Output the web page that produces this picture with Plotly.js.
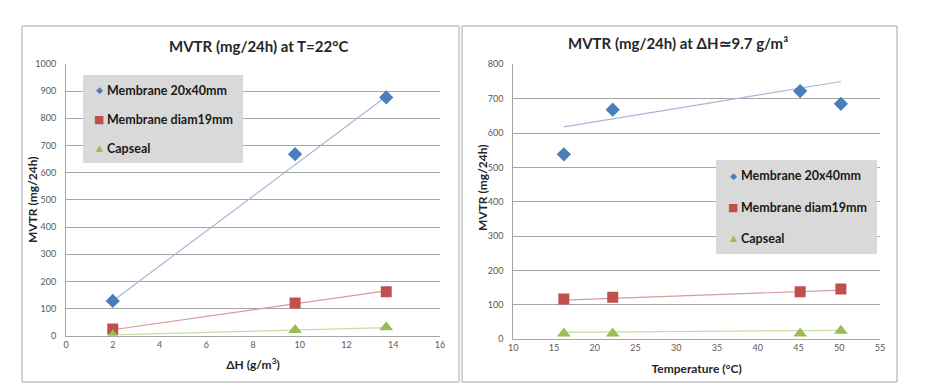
<!DOCTYPE html>
<html>
<head>
<meta charset="utf-8">
<script src="https://cdn.plot.ly/plotly-3.0.1.min.js"></script>
<style>html,body{margin:0;padding:0;background:#fff;}#chart{width:940px;height:390px;}</style>
</head>
<body>
<div id="chart"></div>
<script>
// ---- Data ----
const seriesNames = ["Membrane 20x40mm", "Membrane diam19mm", "Capseal"];

// Left chart: MVTR vs ΔH at T=22°C
const deltaH = [2, 9.8, 13.7];
const leftMembrane20x40 = [128, 668, 877];
const leftMembraneDiam19 = [25, 120, 162];
const leftCapseal = [2, 21, 31];
// Trend lines (end points)
const leftTrendX = [2, 13.7];
const leftTrend20x40 = [128, 880];
const leftTrendDiam19 = [22, 165];
const leftTrendCapseal = [3, 30];

// Right chart: MVTR vs Temperature at ΔH≃9.7 g/m³
const temperature = [16.2, 22.2, 45.2, 50.2];
const rightMembrane20x40 = [538, 668, 722, 685];
const rightMembraneDiam19 = [117, 122, 138, 146];
const rightCapseal = [17, 17, 17, 25];
const rightTrendX = [16.2, 50.2];
const rightTrend20x40 = [618, 750];
const rightTrendDiam19 = [114, 143];
const rightTrendCapseal = [20, 26];

const leftXTicks = [0, 2, 4, 6, 8, 10, 12, 14, 16];
const leftYTicks = [0, 100, 200, 300, 400, 500, 600, 700, 800, 900, 1000];
const rightXTicks = [10, 15, 20, 25, 30, 35, 40, 45, 50, 55];
const rightYTicks = [0, 100, 200, 300, 400, 500, 600, 700, 800];

// ---- Styles ----
const W = 940, H = 390;
const FONT = "Lato, 'Liberation Sans', sans-serif";
const markerColors = ["#4a7ebb", "#c0504d", "#9bbb59"];
const lineColors = ["#a5b9d6", "#d89a98", "#c9dca2"];
const symbols = ["diamond", "square", "triangle-up"];
const sizes = [11, 11, 12];
const glyphs = ["\u25C6", "\u25A0", "\u25B2"];
const glyphSizes = [9, 11, 9];

const px = x => x / W;
const py = y => 1 - y / H;

function trend(x, y, i, xa, ya) {
  return {x: x, y: y, xaxis: xa, yaxis: ya, mode: "lines", type: "scatter",
    line: {color: lineColors[i], width: 1.2}, showlegend: false, hoverinfo: "skip"};
}
function pts(x, y, i, xa, ya) {
  return {x: x, y: y, xaxis: xa, yaxis: ya, mode: "markers", type: "scatter",
    name: seriesNames[i], showlegend: false,
    marker: {color: markerColors[i], symbol: symbols[i], size: sizes[i], line: {width: 0}}};
}

const data = [
  trend(leftTrendX, leftTrend20x40, 0, "x", "y"),
  trend(leftTrendX, leftTrendDiam19, 1, "x", "y"),
  trend(leftTrendX, leftTrendCapseal, 2, "x", "y"),
  pts(deltaH, leftMembrane20x40, 0, "x", "y"),
  pts(deltaH, leftMembraneDiam19, 1, "x", "y"),
  pts(deltaH, leftCapseal, 2, "x", "y"),
  trend(rightTrendX, rightTrend20x40, 0, "x2", "y2"),
  trend(rightTrendX, rightTrendDiam19, 1, "x2", "y2"),
  trend(rightTrendX, rightTrendCapseal, 2, "x2", "y2"),
  pts(temperature, rightMembrane20x40, 0, "x2", "y2"),
  pts(temperature, rightMembraneDiam19, 1, "x2", "y2"),
  pts(temperature, rightCapseal, 2, "x2", "y2")
];

const tickFont = {family: FONT, size: 9, color: "#595959"};
const axTitleFont = {family: FONT, size: 12, color: "#262626", weight: "bold"};

function xAxis(domain, range, ticks, title) {
  return {domain: domain, range: range, tickvals: ticks, ticktext: ticks.map(String),
    showgrid: false, zeroline: false, showline: true, linecolor: "#a6a6a6", linewidth: 1,
    ticks: "", tickfont: tickFont, fixedrange: true,
    title: {text: title, font: axTitleFont, standoff: 12}};
}
function yAxis(domain, range, ticks, anchor) {
  return {domain: domain, range: range, tickvals: ticks, ticktext: ticks.map(String),
    anchor: anchor, showgrid: true, gridcolor: "#a6a6a6", gridwidth: 1, zeroline: false,
    showline: true, linecolor: "#a6a6a6", linewidth: 1, ticks: "", ticklen: 0,
    ticklabelstandoff: 7, tickfont: tickFont, fixedrange: true};
}

const layout = {
  width: W, height: H,
  margin: {l: 0, r: 0, t: 0, b: 0},
  paper_bgcolor: "#ffffff", plot_bgcolor: "rgba(0,0,0,0)",
  showlegend: false,
  font: {family: FONT},
  xaxis: xAxis([px(66), px(440)], [0, 16], leftXTicks, "\u0394H (g/m<sup>3</sup>)"),
  yaxis: yAxis([py(335.7), py(64)], [0, 1000], leftYTicks, "x"),
  xaxis2: Object.assign(xAxis([px(513.3), px(880)], [10, 55], rightXTicks, "Temperature (\u00B0C)"), {anchor: "y2"}),
  yaxis2: yAxis([py(339.3), py(64.3)], [0, 800], rightYTicks, "x2"),
  shapes: [
    {type: "rect", xref: "paper", yref: "paper", x0: px(22), x1: px(459), y0: py(382), y1: py(26),
      line: {color: "#a6a6a6", width: 1}, layer: "below"},
    {type: "rect", xref: "paper", yref: "paper", x0: px(462), x1: px(897), y0: py(382), y1: py(26),
      line: {color: "#a6a6a6", width: 1}, layer: "below"},
    {type: "rect", xref: "paper", yref: "paper", x0: px(83), x1: px(243), y0: py(163), y1: py(75),
      fillcolor: "#d9d9d9", line: {width: 0}, layer: "above"},
    {type: "rect", xref: "paper", yref: "paper", x0: px(716), x1: px(877), y0: py(254), y1: py(160),
      fillcolor: "#d9d9d9", line: {width: 0}, layer: "above"}
  ],
  annotations: []
};

const titleFont = {family: FONT, size: 15, color: "#262626", weight: "bold"};
layout.annotations.push(
  {text: "MVTR (mg/24h) at T=22\u00B0C", xref: "paper", yref: "paper", x: px(258), y: py(46),
    showarrow: false, font: titleFont, xanchor: "center", yanchor: "middle"},
  {text: "MVTR (mg/24h) at \u0394H\u22439.7 g/m\u00B3", xref: "paper", yref: "paper", x: px(678), y: py(43),
    showarrow: false, font: titleFont, xanchor: "center", yanchor: "middle"},
  {text: "MVTR (mg/24h)", xref: "paper", yref: "paper", x: px(33), y: py(200), textangle: -90,
    showarrow: false, font: axTitleFont, xanchor: "center", yanchor: "middle"},
  {text: "MVTR (mg/24h)", xref: "paper", yref: "paper", x: px(482), y: py(188), textangle: -90,
    showarrow: false, font: axTitleFont, xanchor: "center", yanchor: "middle"}
);

// Legends (drawn as boxes with marker glyphs and text)
const legendFont = {family: FONT, size: 12.5, color: "#1a1a1a", weight: "bold"};
function addLegend(glyphX, textX, ys) {
  ys.forEach((y, i) => {
    layout.annotations.push({text: glyphs[i], xref: "paper", yref: "paper", x: px(glyphX), y: py(y),
      showarrow: false, xanchor: "center", yanchor: "middle",
      font: {family: "DejaVu Sans", size: glyphSizes[i], color: markerColors[i]}});
    layout.annotations.push({text: seriesNames[i], xref: "paper", yref: "paper", x: px(textX), y: py(y),
      showarrow: false, xanchor: "left", yanchor: "middle", font: legendFont});
  });
}
addLegend(99, 105, [90, 119, 148]);
addLegend(733, 739, [176, 207, 238]);

Plotly.newPlot("chart", data, layout, {displayModeBar: false, staticPlot: true});
</script>
</body>
</html>
